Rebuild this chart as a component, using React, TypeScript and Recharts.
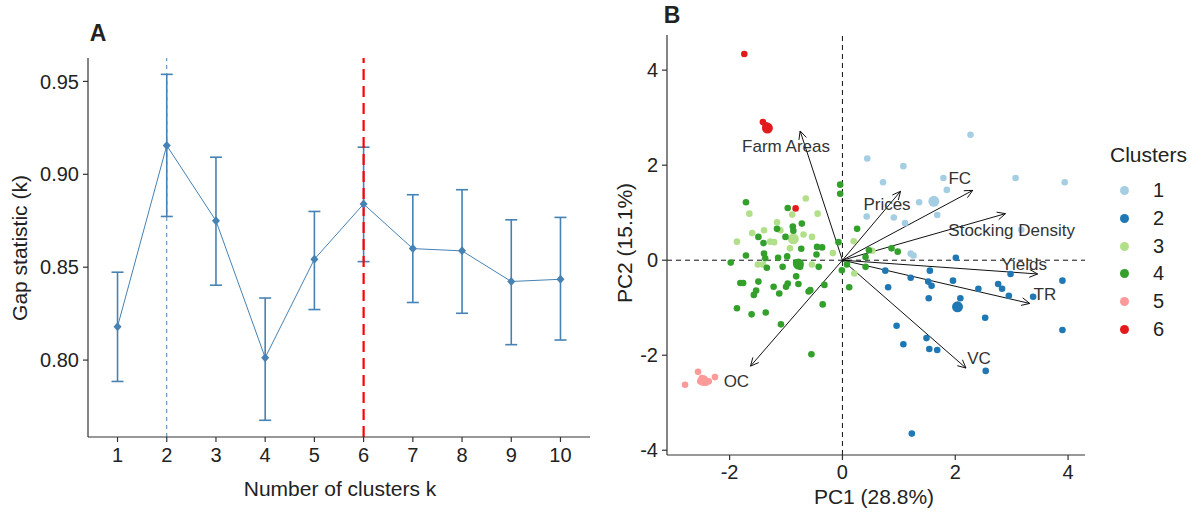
import React from 'react'
import {
  ComposedChart,
  Line,
  ErrorBar,
  XAxis,
  YAxis,
  ReferenceLine,
  ScatterChart,
  Scatter,
  Legend,
} from 'recharts'

const FONT = '"Liberation Sans", Arial, Helvetica, sans-serif'
const INK = '#222222'
const STEEL = '#4682B4'

// ---- Panel A: gap statistic ----
const clusterK = [1, 2, 3, 4, 5, 6, 7, 8, 9, 10]
const gapValues = [0.818, 0.9155, 0.875, 0.8013, 0.8543, 0.884, 0.86, 0.8588, 0.8423, 0.8435]
const gapLower = [0.7885, 0.8773, 0.8403, 0.7676, 0.8272, 0.853, 0.831, 0.8252, 0.8083, 0.8108]
const gapUpper = [0.8473, 0.9538, 0.9092, 0.8334, 0.88, 0.9146, 0.889, 0.8917, 0.8755, 0.8768]
const gapTicks = [0.8, 0.85, 0.9, 0.95]
const firstMaxK = 2
const chosenK = 6

const gapData = clusterK.map((k, i) => ({
  k,
  gap: gapValues[i],
  err: [gapValues[i] - gapLower[i], gapUpper[i] - gapValues[i]],
}))

// ---- Panel B: PCA biplot ----
const clusterNames = ['1', '2', '3', '4', '5', '6']
const clusterColors = ['#A6CEE3', '#1F78B4', '#B2DF8A', '#33A02C', '#FB9A99', '#E31A1C']

const cluster1: [number, number][] = [
  [2.27, 2.64], [0.44, 2.14], [1.08, 1.98], [0.72, 1.64], [1.79, 1.73], [3.07, 1.73],
  [3.94, 1.64], [1.85, 1.48], [1.36, 1.22], [0.43, 0.92], [0.91, 0.9], [1.68, 0.95],
  [1.11, 0.78], [1.21, 0.14], [1.26, 0.1], [3.17, 0.64],
]
const cluster2: [number, number][] = [
  [2.01, 0.05], [0.76, -0.22], [1.55, -0.22], [1.21, -0.37], [1.96, -0.43], [1.52, -0.45],
  [1.58, -0.54], [2.41, -0.6], [2.76, -0.5], [2.83, -0.6], [2.98, -0.29], [3.9, -0.43],
  [0.81, -0.57], [1.53, -0.8], [2.09, -0.8], [2.95, -0.75], [3.38, -0.77], [2.53, -1.21],
  [3.9, -1.47], [0.96, -1.38], [1.08, -1.77], [1.49, -1.64], [1.54, -1.87], [1.68, -1.89],
  [2.54, -2.33], [1.23, -3.65],
]
const cluster3: [number, number][] = [
  [-0.65, 1.3], [-1.65, 0.98], [-0.44, 0.98], [-1.16, 0.8], [-0.89, 0.96], [-1.6, 0.57],
  [-1.87, 0.39], [-1.39, 0.63], [-1.28, 0.39], [-1.21, 0.38], [-0.69, 0.54], [-0.54, 0.49],
  [-1.1, 0.63], [-0.93, 0.25], [-1.5, -0.09], [-1.41, -0.09], [-0.54, -0.09], [-0.17, 0.15],
  [0.2, 0.4], [0.21, -0.28], [0.53, 0.2],
]
const cluster4: [number, number][] = [
  [-0.04, 1.59], [-0.04, 1.4], [-1.71, 1.22], [-0.97, 1.1], [-0.88, 0.71], [-0.87, 0.62],
  [-0.72, 0.77], [-1.16, 0.66], [-1.49, 0.49], [-1.01, 0.49], [-1.4, 0.36], [-0.73, 0.24],
  [-0.45, 0.28], [-0.36, 0.27], [-0.07, 0.38], [0.26, 0.66], [0.87, 0.25], [0.98, 0.18],
  [0.47, 0.21], [0.41, 0.07], [-1.98, -0.05], [-1.71, 0.1], [-1.39, 0.14], [-1.37, 0.04],
  [-1.14, 0.05], [-0.98, 0.08], [-1.34, -0.16], [-1.06, -0.14], [-0.82, -0.05], [-0.75, -0.14],
  [-0.46, 0.12], [-0.42, -0.14], [-0.01, -0.21], [0.08, -0.09], [0.41, -0.14], [-1.81, -0.48],
  [-1.76, -0.48], [-1.49, -0.45], [-1.22, -0.56], [-0.97, -0.49], [-1.0, -0.56], [-0.82, -0.34],
  [-0.78, -0.5], [-1.53, -0.64], [-1.57, -0.73], [-1.12, -0.7], [-0.6, -0.66], [-0.57, -0.63],
  [-0.32, -0.52], [0.12, -0.57], [-1.87, -1.01], [-1.61, -1.14], [-1.36, -1.1], [-0.35, -0.93],
  [-1.09, -1.35], [-0.55, -1.98],
]
const cluster5: [number, number][] = [
  [-2.79, -2.62], [-2.56, -2.35], [-2.49, -2.48], [-2.37, -2.55], [-2.26, -2.46], [-2.52, -2.55],
  [-2.42, -2.58],
]
const cluster6: [number, number][] = [[-1.74, 4.34], [-1.41, 2.91], [-1.36, 2.84], [-0.83, 1.09]]
const clusterPoints = [cluster1, cluster2, cluster3, cluster4, cluster5, cluster6]
// mean point of each cluster (drawn larger)
const centroidX = [1.62, 2.04, -0.87, -0.78, -2.47, -1.33]
const centroidY = [1.24, -0.98, 0.45, -0.08, -2.53, 2.78]

const varNames = ['Farm Areas', 'Prices', 'FC', 'Stocking Density', 'Yields', 'TR', 'VC', 'OC']
const loadX = [-0.75, 1.03, 2.31, 2.89, 3.46, 3.32, 2.19, -1.63]
const loadY = [2.72, 1.45, 1.47, 0.98, -0.29, -0.91, -2.27, -2.23]
const varLabelX = [-1.0, 0.79, 2.08, 3.0, 3.22, 3.59, 2.42, -1.88]
const varLabelY = [2.4, 1.17, 1.71, 0.63, -0.08, -0.73, -2.06, -2.55]

const pcTicksX = [-2, 0, 2, 4]
const pcTicksY = [-4, -2, 0, 2, 4]

const clusterData = clusterPoints.map((pts, c) => [
  ...pts.map(([x, y]) => ({ x, y, big: false })),
  { x: centroidX[c], y: centroidY[c], big: true },
])
const varLabelData = varNames.map((name, i) => ({ x: varLabelX[i], y: varLabelY[i], name }))

const tickStyle = { fill: INK, fontSize: 20, fontFamily: FONT }
const axisLine = { stroke: '#333', strokeWidth: 1.2 }

const Diamond = (p: any) => {
  if (p.cx == null || p.cy == null) return <g key={p.key} />
  const { cx, cy } = p
  return (
    <path
      key={p.key}
      d={`M${cx},${cy - 4.5}L${cx + 4},${cy}L${cx},${cy + 4.5}L${cx - 4},${cy}Z`}
      fill={STEEL}
    />
  )
}

const Arrow = (p: any) => {
  const { x1, y1, x2, y2 } = p
  if ([x1, y1, x2, y2].some((v) => v == null || isNaN(v))) return <g />
  const a = Math.atan2(y2 - y1, x2 - x1)
  const len = 9
  const w = Math.PI / 7
  const pts = `${x2 - len * Math.cos(a - w)},${y2 - len * Math.sin(a - w)} ${x2},${y2} ${x2 - len * Math.cos(a + w)},${y2 - len * Math.sin(a + w)}`
  return (
    <g>
      <line x1={x1} y1={y1} x2={x2} y2={y2} stroke="#111" strokeWidth={1} />
      <polyline points={pts} fill="none" stroke="#111" strokeWidth={1} />
    </g>
  )
}

const VarLabel = (p: any) => (
  <text
    x={p.cx}
    y={p.cy}
    textAnchor="middle"
    dominantBaseline="central"
    fontSize={17}
    fontFamily={FONT}
    fill="#333"
  >
    {p.payload.name}
  </text>
)

const ClusterDot = (p: any) => (
  <circle cx={p.cx} cy={p.cy} r={p.payload.big ? 5.5 : 3.3} fill={p.fill} />
)

const ClusterLegend = (props: any) => (
  <div style={{ fontFamily: FONT, color: INK }}>
    <div style={{ fontSize: 21, lineHeight: '24px', marginBottom: 10 }}>Clusters</div>
    {(props.payload || []).map((e: any) => (
      <div key={e.value} style={{ display: 'flex', alignItems: 'center', height: 27.7 }}>
        <span
          style={{
            width: 9,
            height: 9,
            borderRadius: 5,
            background: e.color,
            marginLeft: 10,
            marginRight: 24,
          }}
        />
        <span style={{ fontSize: 20 }}>{e.value}</span>
      </div>
    ))}
  </div>
)

const Title = ({ x, y, text, rotate, size = 21, bold }: any) => (
  <div
    style={{
      position: 'absolute',
      left: x,
      top: y,
      transform: `translate(-50%, -50%)${rotate ? ' rotate(-90deg)' : ''}`,
      whiteSpace: 'nowrap',
      fontFamily: FONT,
      fontSize: size,
      fontWeight: bold ? 700 : 400,
      color: INK,
    }}
  >
    {text}
  </div>
)

export default function App() {
  return (
    <div style={{ position: 'absolute', left: 0, top: 0, width: 1197, height: 512, background: '#fff' }}>
      <div style={{ position: 'absolute', left: 0, top: 0 }}>
        <ComposedChart width={600} height={512} data={gapData} margin={{ top: 58, right: 10, bottom: 40, left: 33 }}>
          <XAxis
            dataKey="k"
            type="number"
            domain={[0.4, 10.6]}
            ticks={clusterK}
            allowDataOverflow
            height={35}
            tick={tickStyle}
            tickSize={5}
            tickMargin={6}
            axisLine={axisLine}
            tickLine={axisLine}
          />
          <YAxis
            type="number"
            domain={[0.7586, 0.9626]}
            ticks={gapTicks}
            allowDataOverflow
            width={55}
            tick={tickStyle}
            tickSize={5}
            tickMargin={4}
            tickFormatter={(v: number) => v.toFixed(2)}
            axisLine={axisLine}
            tickLine={axisLine}
          />
          <ReferenceLine x={firstMaxK} stroke={STEEL} strokeWidth={1} strokeDasharray="4 4" />
          <Line
            dataKey="gap"
            stroke={STEEL}
            strokeWidth={1}
            dot={Diamond}
            activeDot={false}
            isAnimationActive={false}
          >
            <ErrorBar dataKey="err" direction="y" width={6} stroke={STEEL} strokeWidth={1.6} />
          </Line>
          <ReferenceLine x={chosenK} stroke="#FF0000" strokeWidth={2.2} strokeDasharray="11 6" />
        </ComposedChart>
      </div>

      <div style={{ position: 'absolute', left: 600, top: 0 }}>
        <ScatterChart width={597} height={512} margin={{ top: 35, right: 112, bottom: 27, left: 27 }}>
          <XAxis
            dataKey="x"
            type="number"
            domain={[-3.11, 4.3]}
            ticks={pcTicksX}
            allowDataOverflow
            height={30}
            tick={tickStyle}
            tickSize={5}
            tickMargin={5}
            axisLine={axisLine}
            tickLine={axisLine}
          />
          <YAxis
            dataKey="y"
            type="number"
            domain={[-4.1, 4.74]}
            ticks={pcTicksY}
            allowDataOverflow
            width={40}
            tick={tickStyle}
            tickSize={5}
            tickMargin={4}
            axisLine={axisLine}
            tickLine={axisLine}
          />
          <ReferenceLine x={0} stroke="#111" strokeWidth={1} strokeDasharray="5 4" />
          <ReferenceLine y={0} stroke="#111" strokeWidth={1} strokeDasharray="5 4" />
          {clusterData.map((d, c) => (
            <Scatter
              key={clusterNames[c]}
              name={clusterNames[c]}
              data={d}
              fill={clusterColors[c]}
              shape={ClusterDot}
              isAnimationActive={false}
            />
          ))}
          {varNames.map((n, i) => (
            <ReferenceLine
              key={n}
              segment={[
                { x: 0, y: 0 },
                { x: loadX[i], y: loadY[i] },
              ]}
              shape={Arrow}
            />
          ))}
          <Scatter data={varLabelData} shape={VarLabel} legendType="none" isAnimationActive={false} />
          <Legend
            layout="vertical"
            align="center"
            verticalAlign="middle"
            content={ClusterLegend}
            wrapperStyle={{ left: 510, top: 143, width: 87 }}
          />
        </ScatterChart>
      </div>

      <Title x={98} y={33} text="A" size={23} bold />
      <Title x={672} y={15} text="B" size={23} bold />
      <Title x={20} y={248} text="Gap statistic (k)" rotate />
      <Title x={340} y={489} text="Number of clusters k" />
      <Title x={625} y={243} text="PC2 (15.1%)" rotate />
      <Title x={874} y={497} text="PC1 (28.8%)" />
    </div>
  )
}
